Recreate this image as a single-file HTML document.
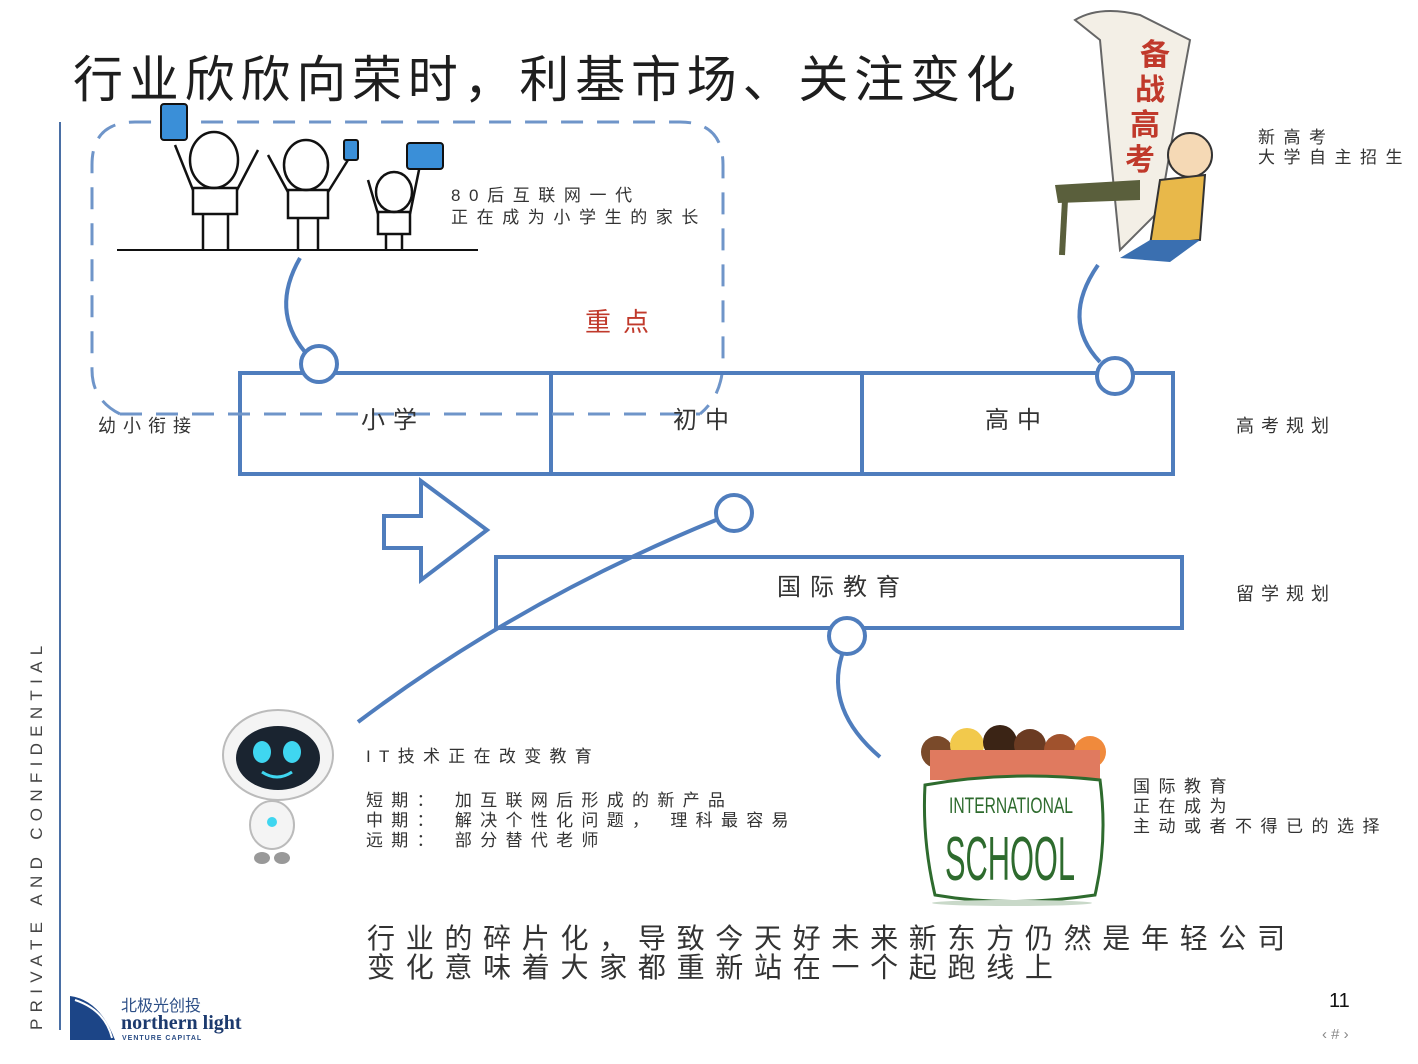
<!DOCTYPE html>
<html><head><meta charset="utf-8"><style>
html,body{margin:0;padding:0;background:#fff;}
svg{display:block;}
text{font-family:"Liberation Sans","Noto Sans CJK SC",sans-serif;fill:#333;}
</style></head><body>
<svg width="1418" height="1064" viewBox="0 0 1418 1064" xmlns="http://www.w3.org/2000/svg">
<rect width="1418" height="1064" fill="#fff"/>
<text x="73" y="97" font-size="50" style="fill:#1e1e1e" letter-spacing="5.8">行业欣欣向荣时，利基市场、关注变化</text>
<line x1="60" y1="122" x2="60" y2="1030" stroke="#4a6fa5" stroke-width="2"/>
<text transform="translate(42,1030) rotate(-90)" font-size="17" letter-spacing="6.3" style="fill:#444">PRIVATE AND CONFIDENTIAL</text>

<path d="M120,414 Q92,400 92,370 L92,165 Q92,122 135,122 L680,122 Q723,122 723,165 L723,360 Q723,395 700,414" fill="none" stroke="#6f95c9" stroke-width="3" stroke-dasharray="22,14"/>

<line x1="117" y1="250" x2="478" y2="250" stroke="#111" stroke-width="2"/>
<g fill="none" stroke="#111" stroke-width="2.5">
<ellipse cx="214" cy="160" rx="24" ry="28"/><rect x="193" y="188" width="44" height="26"/><line x1="203" y1="214" x2="203" y2="250"/><line x1="228" y1="214" x2="228" y2="250"/><line x1="193" y1="190" x2="175" y2="145"/><line x1="237" y1="190" x2="258" y2="150"/>
<ellipse cx="306" cy="165" rx="22" ry="25"/><rect x="288" y="190" width="40" height="28"/><line x1="298" y1="218" x2="298" y2="250"/><line x1="318" y1="218" x2="318" y2="250"/><line x1="288" y1="192" x2="268" y2="155"/><line x1="328" y1="192" x2="348" y2="160"/>
<ellipse cx="394" cy="192" rx="18" ry="20"/><rect x="378" y="212" width="32" height="22"/><line x1="386" y1="234" x2="386" y2="250"/><line x1="402" y1="234" x2="402" y2="250"/><line x1="410" y1="214" x2="420" y2="165"/><line x1="378" y1="214" x2="368" y2="180"/>
</g>
<rect x="161" y="104" width="26" height="36" rx="3" fill="#3a8fd8" stroke="#111" stroke-width="2"/>
<rect x="344" y="140" width="14" height="20" rx="2" fill="#3a8fd8" stroke="#111" stroke-width="2"/>
<rect x="407" y="143" width="36" height="26" rx="3" fill="#3a8fd8" stroke="#111" stroke-width="2"/>

<text x="451" y="201" font-size="17" letter-spacing="8.6">80后互联网一代</text>
<text x="451" y="223" font-size="17" letter-spacing="8.6">正在成为小学生的家长</text>
<text x="585" y="331" font-size="26" style="fill:#c0392b" letter-spacing="12">重点</text>

<path d="M1075,20 Q1100,5 1140,15 L1190,40 Q1175,120 1160,210 L1120,250 Q1110,150 1100,40 Z" fill="#f3efe6" stroke="#666" stroke-width="2"/>
<text x="1140" y="65" font-size="30" font-weight="bold" style="fill:#c0392b">备</text>
<text x="1135" y="100" font-size="30" font-weight="bold" style="fill:#c0392b">战</text>
<text x="1130" y="135" font-size="30" font-weight="bold" style="fill:#c0392b">高</text>
<text x="1125" y="170" font-size="30" font-weight="bold" style="fill:#c0392b">考</text>
<path d="M1055,185 L1140,180 L1140,200 L1058,203 Z" fill="#5a5f3c"/>
<line x1="1065" y1="200" x2="1062" y2="255" stroke="#5a5f3c" stroke-width="6"/>
<circle cx="1190" cy="155" r="22" fill="#f5d9b5" stroke="#333" stroke-width="2"/>
<path d="M1160,180 L1205,175 L1200,240 L1150,245 Z" fill="#e8b84a" stroke="#333" stroke-width="2"/>
<path d="M1150,240 L1120,258 L1170,262 L1200,240 Z" fill="#3a6fb0"/>

<text x="1258" y="143" font-size="17" letter-spacing="8.5">新高考</text>
<text x="1258" y="163" font-size="17" letter-spacing="8.5">大学自主招生</text>

<g fill="none" stroke="#4f7dbd" stroke-width="4">
<path d="M300,258 Q270,310 305,352"/>
<path d="M1098,265 Q1060,320 1100,362"/>
<path d="M716,520 Q520,600 358,722"/>
<path d="M842,655 Q825,710 880,757"/>
<rect x="240" y="373" width="933" height="101"/>
<line x1="551" y1="373" x2="551" y2="474"/>
<line x1="862" y1="373" x2="862" y2="474"/>
<rect x="496" y="557" width="686" height="71"/>
<path d="M384,516 L421,516 L421,481 L487,530 L421,580 L421,548 L384,548 Z" fill="#fff"/>
</g>
<line x1="120" y1="414" x2="700" y2="414" stroke="#6f95c9" stroke-width="3" stroke-dasharray="22,14"/>
<g fill="#fff" stroke="#4f7dbd" stroke-width="4">
<circle cx="319" cy="364" r="18"/><circle cx="1115" cy="376" r="18"/><circle cx="734" cy="513" r="18"/><circle cx="847" cy="636" r="18"/>
</g>
<text x="361" y="428" font-size="24" letter-spacing="8">小学</text>
<text x="673" y="428" font-size="24" letter-spacing="8">初中</text>
<text x="985" y="428" font-size="24" letter-spacing="8">高中</text>
<text x="777" y="595" font-size="24" letter-spacing="9">国际教育</text>
<text x="98" y="432" font-size="18" letter-spacing="7">幼小衔接</text>
<text x="1236" y="432" font-size="18" letter-spacing="7">高考规划</text>
<text x="1236" y="600" font-size="18" letter-spacing="7">留学规划</text>

<ellipse cx="278" cy="755" rx="55" ry="45" fill="#f4f4f4" stroke="#bbb" stroke-width="2"/>
<ellipse cx="278" cy="758" rx="42" ry="32" fill="#1a2430"/>
<ellipse cx="262" cy="752" rx="9" ry="11" fill="#3fd6f0"/><ellipse cx="292" cy="752" rx="9" ry="11" fill="#3fd6f0"/>
<path d="M262,772 Q277,782 292,772" stroke="#3fd6f0" stroke-width="3" fill="none"/>
<ellipse cx="272" cy="825" rx="22" ry="24" fill="#f4f4f4" stroke="#bbb" stroke-width="2"/>
<circle cx="272" cy="822" r="5" fill="#3fd6f0"/>
<ellipse cx="262" cy="858" rx="8" ry="6" fill="#999"/><ellipse cx="282" cy="858" rx="8" ry="6" fill="#999"/>

<text x="366" y="762" font-size="17" letter-spacing="8.3">IT技术正在改变教育</text>
<text x="366" y="806" font-size="17" letter-spacing="8.3">短期： 加互联网后形成的新产品</text>
<text x="366" y="826" font-size="17" letter-spacing="8.3">中期： 解决个性化问题， 理科最容易</text>
<text x="366" y="846" font-size="17" letter-spacing="8.3">远期： 部分替代老师</text>

<g>
<circle cx="937" cy="752" r="16" fill="#7a4a2a"/><circle cx="967" cy="745" r="17" fill="#f2c94c"/><circle cx="1000" cy="742" r="17" fill="#3b2415"/><circle cx="1030" cy="745" r="16" fill="#6b3b22"/><circle cx="1060" cy="750" r="16" fill="#a0522d"/><circle cx="1090" cy="752" r="16" fill="#f08a3c"/>
<rect x="930" y="750" width="170" height="30" fill="#e07a5f"/>
<path d="M925,785 Q1010,770 1100,780 Q1108,840 1095,895 Q1010,908 935,895 Q922,840 925,785 Z" fill="#fff" stroke="#2e6b2e" stroke-width="3"/>
<text x="949" y="813" font-size="22" style="fill:#2e6b2e" textLength="124" lengthAdjust="spacingAndGlyphs">INTERNATIONAL</text>
<text x="945" y="880" font-size="62" style="fill:#2e6b2e" textLength="130" lengthAdjust="spacingAndGlyphs">SCHOOL</text>
<ellipse cx="1012" cy="903" rx="80" ry="3" fill="#c9d9c9"/>
</g>
<text x="1133" y="792" font-size="17" letter-spacing="8.5">国际教育</text>
<text x="1133" y="812" font-size="17" letter-spacing="8.5">正在成为</text>
<text x="1133" y="832" font-size="17" letter-spacing="8.5">主动或者不得已的选择</text>

<text x="367" y="948" font-size="28" letter-spacing="10.7" style="fill:#333">行业的碎片化，导致今天好未来新东方仍然是年轻公司</text>
<text x="367" y="977" font-size="28" letter-spacing="10.7" style="fill:#333">变化意味着大家都重新站在一个起跑线上</text>

<path d="M70,996 Q100,1000 115,1040 L70,1040 Z" fill="#1c4587"/>
<path d="M75,1000 Q105,1010 112,1038" stroke="#fff" stroke-width="2" fill="none"/>
<text x="121" y="1011" font-size="16" style="fill:#2c4e86">北极光创投</text>
<text x="121" y="1029" font-size="20" font-weight="bold" style="fill:#1c3a6e;font-family:'Liberation Serif',serif">northern light</text>
<text x="122" y="1040" font-size="7" font-weight="bold" style="fill:#2c4e86" letter-spacing="1">VENTURE CAPITAL</text>

<text x="1329" y="1007" font-size="20" style="fill:#111">11</text>
<text x="1322" y="1039" font-size="15" style="fill:#888">‹ # ›</text>
</svg>
</body></html>
